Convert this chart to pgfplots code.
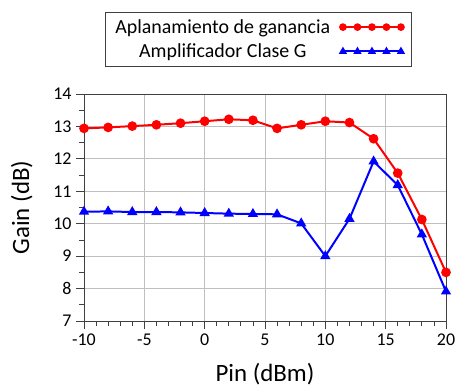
\documentclass[border=0pt]{standalone}
\usepackage{pgfplots}
\pgfplotsset{compat=1.18}
\usetikzlibrary{calc}
\usepackage{fontspec}
\setmainfont{Carlito}
\begin{document}
\begin{tikzpicture}
\begin{axis}[
  name=ax,
  scale only axis,
  width=362bp, height=227bp,
  xmin=-10, xmax=20, ymin=7, ymax=14,
  xtick={-10,-5,...,20}, ytick={7,8,...,14},
  minor x tick num=4, minor y tick num=1,
  grid=major,
  major grid style={draw=black!25, line width=0.8pt},
  axis line style={black!75, line width=0.8pt},
  tick style={black!75, line width=0.8pt},
  tick align=outside,
  xtick pos=bottom, ytick pos=left,
  major tick length=8bp, minor tick length=5bp,
  /pgf/number format/assume math mode=true,
  ticklabel style={font=\fontsize{18}{21}\selectfont},
  xticklabel style={yshift=-1bp},
  yticklabel style={xshift=-1bp},
  xlabel={Pin (dBm)}, ylabel={Gain (dB)},
  label style={font=\fontsize{25}{28}\selectfont},
  xlabel style={yshift=-11bp},
  ylabel style={yshift=14bp},
  legend style={at={(0.058,1.361)}, anchor=north west, draw=black!75, line width=0.8pt,
    font=\fontsize{20}{24}\selectfont, inner xsep=8bp, inner ysep=5bp, row sep=5bp, column sep=8bp},
  legend cell align=center,
  legend plot pos=right,
  legend image code/.code={\draw[mark repeat=1, mark size=2.8bp] plot coordinates {(0bp,0bp) (14.5bp,0bp) (29bp,0bp) (43.5bp,0bp) (58bp,0bp)};},
]
\addplot[red, line width=2pt, mark=*, mark size=3.8bp] coordinates {
(-10,12.94) (-8,12.97) (-6,13.01) (-4,13.05) (-2,13.10) (0,13.16) (2,13.22) (4,13.19)
(6,12.94) (8,13.05) (10,13.16) (12,13.12) (14,12.62) (16,11.56) (18,10.13) (20,8.50)};
\addlegendentry{Aplanamiento de ganancia}
\addplot[blue, line width=2pt, mark=triangle*, mark size=4bp] coordinates {
(-10,10.37) (-8,10.38) (-6,10.36) (-4,10.36) (-2,10.35) (0,10.33) (2,10.31) (4,10.30)
(6,10.29) (8,10.01) (10,9.00) (12,10.15) (14,11.92) (16,11.19) (18,9.67) (20,7.91)};
\addlegendentry{Amplificador Clase G}
\end{axis}
\pgfresetboundingbox
\path[use as bounding box] ($(ax.south west)+(-84bp,-67bp)$) rectangle ($(ax.north east)+(13bp,94bp)$);
\end{tikzpicture}
\end{document}
